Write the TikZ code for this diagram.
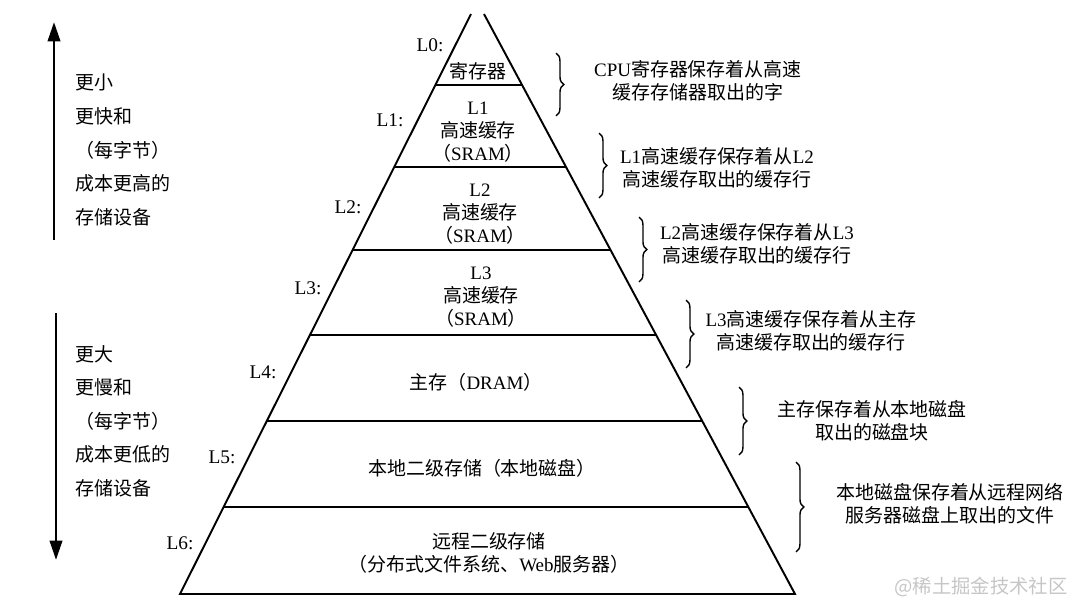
\documentclass[tikz,border=0pt]{standalone}
\usepackage{fontspec}
\setmainfont{Liberation Serif}
\newfontfamily\cjkfont{Noto Sans CJK SC}
\usetikzlibrary{arrows.meta, calc, decorations.pathreplacing}
\newcommand{\zh}[1]{{\cjkfont #1}}
\tikzset{
    % Pyramid
    pyrline/.style={line width=1.1pt, line join=miter},
    lvltext/.style={align=center, inner sep=0pt, font=\fontsize{10.8}{12.9}\selectfont},
    lvllbl/.style={inner sep=0pt, font=\fontsize{11}{13}\selectfont},
    % Braces and notes
    notebrace/.style={decorate, decoration={brace, amplitude=4.5pt}, line width=0.8pt},
    notetext/.style={align=center, inner sep=0pt, font=\fontsize{10.8}{12.9}\selectfont},
    % Side arrows
    sidearrow/.style={-{Triangle[length=11pt, width=7pt]}, line width=1.6pt},
    sidetext/.style={align=left, anchor=west, inner sep=0pt, font=\fontsize{10.8}{19.1}\selectfont},
    wmark/.style={inner sep=0pt, text=gray!45, font=\fontsize{11}{13}\selectfont\cjkfont},
}

\begin{document}
\begin{tikzpicture}[x=0.02cm, y=-0.02cm]
\useasboundingbox (0,0) rectangle (1080,616);
% pyramid outline
\coordinate (apexL) at (471,14);
\coordinate (apexR) at (484,14);
\coordinate (baseL) at (180,594);
\coordinate (baseR) at (795,594);
\draw[pyrline] (apexL) -- (baseL) -- (baseR) -- (apexR);
\foreach \t in {0.1224,0.2638,0.4069,0.5534,0.7017,0.8500}
    \draw[pyrline] ($(apexL)!\t!(baseL)$) -- ($(apexR)!\t!(baseR)$);

% level contents
\node[lvltext] (reg) at (478,71) {\zh{寄存器}};
\node[lvltext] (l1c) at (478,132) {L1\\\zh{高速缓存}\\\zh{（}SRAM\zh{）}};
\node[lvltext] (l2c) at (480,214) {L2\\\zh{高速缓存}\\\zh{（}SRAM\zh{）}};
\node[lvltext] (l3c) at (481,297) {L3\\\zh{高速缓存}\\\zh{（}SRAM\zh{）}};
\node[lvltext] (mem) at (476,382) {\zh{主存（}DRAM\zh{）}};
\node[lvltext] (disk) at (482,468) {\zh{本地二级存储（本地磁盘）}};
\node[lvltext] (remote) at (489,553) {\zh{远程二级存储}\\\zh{（分布式文件系统、}Web\zh{服务器）}};

% level labels
\node[lvllbl] (lb0) at (430,45) {L0:};
\node[lvllbl] (lb1) at (390,120) {L1:};
\node[lvllbl] (lb2) at (348,207) {L2:};
\node[lvllbl] (lb3) at (308,288) {L3:};
\node[lvllbl] (lb4) at (263,372) {L4:};
\node[lvllbl] (lb5) at (222,457) {L5:};
\node[lvllbl] (lb6) at (180,543) {L6:};

% braces with notes
\draw[notebrace] (556,53) -- (556,116);
\node[notetext] (n0) at (698,81) {CPU\zh{寄存器保存着从高速}\\\zh{缓存存储器取出的字}};
\draw[notebrace] (599,133) -- (599,198);
\node[notetext] (n1) at (717,168) {L1\zh{高速缓存保存着从}L2\\\zh{高速缓存取出的缓存行}};
\draw[notebrace] (639,217) -- (639,282);
\node[notetext] (n2) at (757,244) {L2\zh{高速缓存保存着从}L3\\\zh{高速缓存取出的缓存行}};
\draw[notebrace] (686,300) -- (686,368);
\node[notetext] (n3) at (811,331) {L3\zh{高速缓存保存着从主存}\\\zh{高速缓存取出的缓存行}};
\draw[notebrace] (739,387) -- (739,455);
\node[notetext] (n4) at (872,421) {\zh{主存保存着从本地磁盘}\\\zh{取出的磁盘块}};
\draw[notebrace] (796,462) -- (796,552);
\node[notetext] (n5) at (950,504) {\zh{本地磁盘保存着从远程网络}\\\zh{服务器磁盘上取出的文件}};

% side arrows
\coordinate (upS) at (54,240);
\coordinate (upE) at (54,22);
\coordinate (dnS) at (56,313);
\coordinate (dnE) at (56,560);
\draw[sidearrow] (upS) -- (upE);
\draw[sidearrow] (dnS) -- (dnE);
\node[sidetext] (fast) at (75,150) {\zh{更小}\\\zh{更快和}\\\zh{（每字节）}\\\zh{成本更高的}\\\zh{存储设备}};
\node[sidetext] (slow) at (75,421) {\zh{更大}\\\zh{更慢和}\\\zh{（每字节）}\\\zh{成本更低的}\\\zh{存储设备}};

\node[wmark] (wm) at (981,587) {@稀土掘金技术社区};
\end{tikzpicture}
\end{document}
